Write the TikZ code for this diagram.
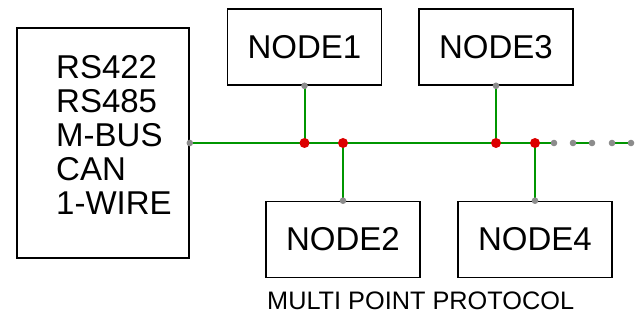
\documentclass[tikz,border=0pt]{standalone}
\usepackage{fontspec}
\setmainfont{Liberation Sans}
\usepackage{xcolor}
\usetikzlibrary{positioning}
\definecolor{busgreen}{RGB}{0,150,0}
\definecolor{jointred}{RGB}{220,0,0}
\definecolor{portgray}{RGB}{140,140,140}

\begin{document}
\begin{tikzpicture}[x=1pt, y=1pt,
box/.style={draw=black, line width=1.6pt, minimum width=154pt, minimum height=76pt, inner sep=0pt, font=\fontsize{33}{34}\selectfont},
bus/.style={draw=busgreen, line width=2pt},
joint/.style={fill=jointred},
port/.style={fill=portgray}]
\useasboundingbox (0,0) rectangle (642,321);

\node[box, minimum width=172pt, minimum height=230pt] (main) at (103,178) {};
\node[anchor=north west, inner sep=0pt, align=left, font=\fontsize{33}{34}\selectfont] (protos) at (56,266) {RS422\\RS485\\M-BUS\\CAN\\1-WIRE};

\node[box] (n1) at (304.5,274) {NODE1};
\node[box] (n3) at (496,274) {NODE3};
\node[box] (n2) at (343,81.5) {NODE2};
\node[box] (n4) at (535,81.5) {NODE4};

\node[anchor=base west, inner sep=0pt, font=\fontsize{25.3}{30}\selectfont] (title) at (267,11) {MULTI POINT PROTOCOL};

\coordinate (j1) at (n1 |- main.east);
\coordinate (j2) at (n2 |- main.east);
\coordinate (j3) at (n3 |- main.east);
\coordinate (j4) at (n4 |- main.east);
\coordinate (t0) at (554,178);
\coordinate (t1) at (573,178);
\coordinate (t2) at (592,178);
\coordinate (t3) at (612,178);
\coordinate (t4) at (631,178);

\draw[bus] (main.east) -- (j4) -- (t0);
\draw[bus] (t1) -- (t2);
\draw[bus] (t3) -- (t4);
\draw[bus] (n1.south) -- (j1);
\draw[bus] (n3.south) -- (j3);
\draw[bus] (n2.north) -- (j2);
\draw[bus] (n4.north) -- (j4);

\foreach \p in {main.east, n1.south, n2.north, n3.south, n4.north, t0, t1, t2, t3, t4}
  \fill[port] (\p) circle (3.3);
\foreach \p in {j1, j2, j3, j4}
  \fill[joint] (\p) circle (5);

\end{tikzpicture}
\end{document}
